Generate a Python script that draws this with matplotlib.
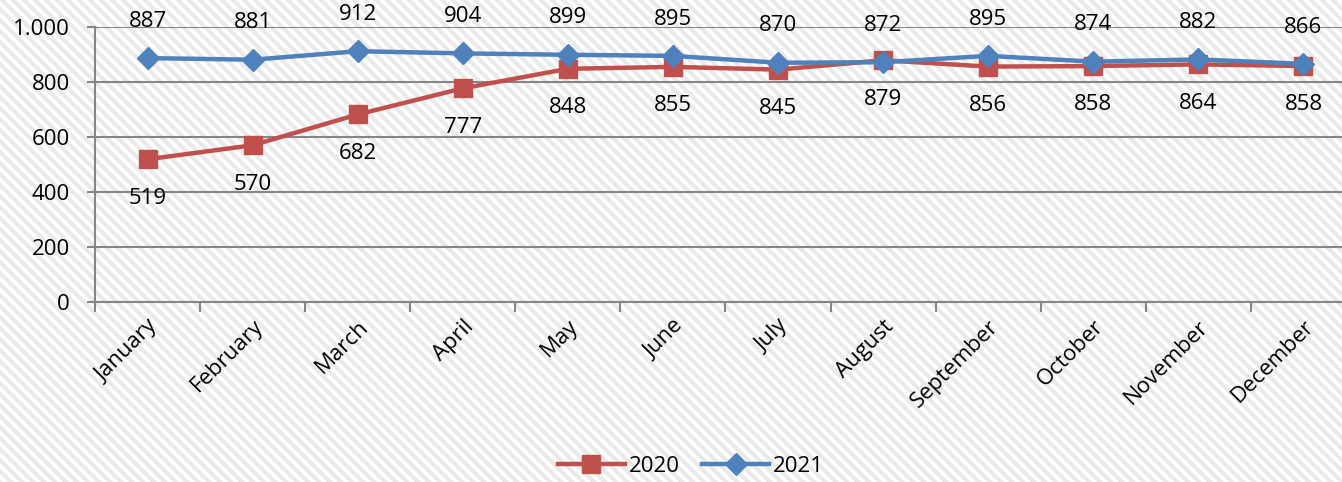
import numpy as np
import matplotlib
matplotlib.use("Agg")
import matplotlib.pyplot as plt
from matplotlib.lines import Line2D

plt.rcParams['font.family'] = ['Open Sans', 'DejaVu Sans']

months = ['January', 'February', 'March', 'April', 'May', 'June', 'July',
          'August', 'September', 'October', 'November', 'December']
vals_2020 = [519, 570, 682, 777, 848, 855, 845, 879, 856, 858, 864, 858]
vals_2021 = [887, 881, 912, 904, 899, 895, 870, 872, 895, 874, 882, 866]
yticks = [0, 200, 400, 600, 800, 1000]
ytick_labels = ['0', '200', '400', '600', '800', '1.000']

W, H = 1342, 482
fig = plt.figure(figsize=(W / 100, H / 100), dpi=100)
fig.patch.set_facecolor('white')

# diagonal stripe background
for x0 in np.arange(-H, W + 20, 11):
    fig.add_artist(Line2D([x0 / W, (x0 + H) / W], [1, 0], transform=fig.transFigure,
                          color='#eaeaea', lw=3.0, zorder=-10))

left, right = 95 / W, 1356 / W
bottom, top = 1 - 302 / H, 1 - 27 / H
ax = fig.add_axes([left, bottom, right - left, top - bottom])
ax.patch.set_alpha(0)

x = np.arange(len(months))
red = '#C0504D'
blue = '#4F81BD'
fs = 16
ax.plot(x, vals_2020, color=red, lw=3.2, marker='s', ms=13, label='2020', zorder=3)
ax.plot(x, vals_2021, color=blue, lw=3.2, marker='D', ms=11, label='2021', zorder=4)

for i in range(len(months)):
    ax.annotate(str(vals_2020[i]), (x[i], vals_2020[i]), xytext=(0, -28),
                textcoords='offset points', ha='center', va='center', fontsize=fs)
    ax.annotate(str(vals_2021[i]), (x[i], vals_2021[i]), xytext=(0, 26.5),
                textcoords='offset points', ha='center', va='center', fontsize=fs)

ax.set_xlim(-0.5, 11.5)
ax.set_ylim(0, 1000)
ax.set_yticks(yticks)
ax.set_yticklabels(ytick_labels, fontsize=fs)
ax.yaxis.grid(True, color='#868686', lw=1.5)
ax.set_axisbelow(True)
ax.tick_params(axis='y', length=6, color='#868686', width=1.5, pad=12)

ax.set_xticks(x)
ax.set_xticklabels(months, rotation=45, ha='right', rotation_mode='anchor', fontsize=fs)
ax.set_xticks(np.arange(-0.5, 12, 1), minor=True)
ax.tick_params(axis='x', which='major', length=0, pad=10)
ax.tick_params(axis='x', which='minor', length=7, color='#868686', width=1.5)

for s in ['top', 'right']:
    ax.spines[s].set_visible(False)
for s in ['left', 'bottom']:
    ax.spines[s].set_color('#868686')
    ax.spines[s].set_linewidth(1.5)

fig.legend(loc='center', bbox_to_anchor=(0.515, 1 - 466 / H), ncol=2, frameon=False,
           fontsize=fs, handlelength=3.0, columnspacing=1.0, handletextpad=0.2)

fig.savefig('out.png', dpi=100)
